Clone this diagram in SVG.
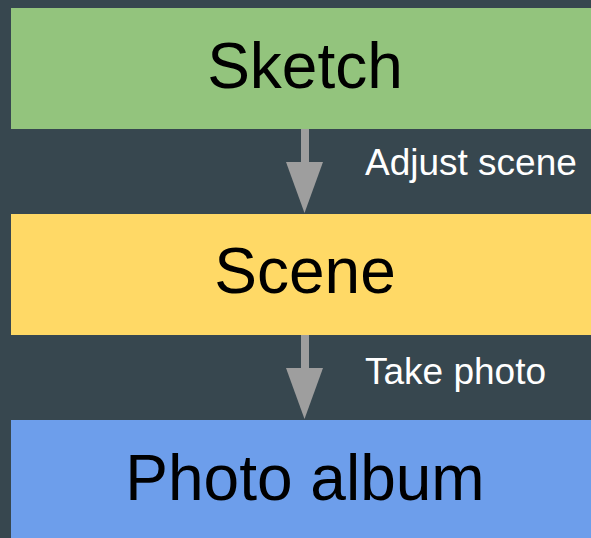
<svg xmlns="http://www.w3.org/2000/svg" width="591" height="538" viewBox="0 0 591 538">
<style>
.t{font-family:"Liberation Sans",Arial,sans-serif;fill:#000;font-size:64px;text-anchor:middle}
.l{font-family:"Liberation Sans",Arial,sans-serif;fill:#fff;font-size:37px}
.a{fill:#9e9e9e}
</style>
<rect width="591" height="538" fill="#37474f"/>
<g id="connectors">
<g id="c1"><rect class="a" x="301" y="129" width="8" height="34"/><polygon class="a" points="286,162 323,162 304.5,213"/><text class="l" x="365" y="175">Adjust scene</text></g>
<g id="c2"><rect class="a" x="301" y="335" width="8" height="34"/><polygon class="a" points="286,368 323,368 304.5,419"/><text class="l" x="365" y="384">Take photo</text></g>
</g>
<g id="sketch"><rect x="11" y="8" width="580" height="121" fill="#93c47d"/><text class="t" x="305" y="88">Sketch</text></g>
<g id="scene"><rect x="11" y="214" width="580" height="121" fill="#ffd966"/><text class="t" x="305" y="293">Scene</text></g>
<g id="album"><rect x="11" y="420" width="580" height="118" fill="#6d9eeb"/><text class="t" x="305" y="500">Photo album</text></g>
</svg>
